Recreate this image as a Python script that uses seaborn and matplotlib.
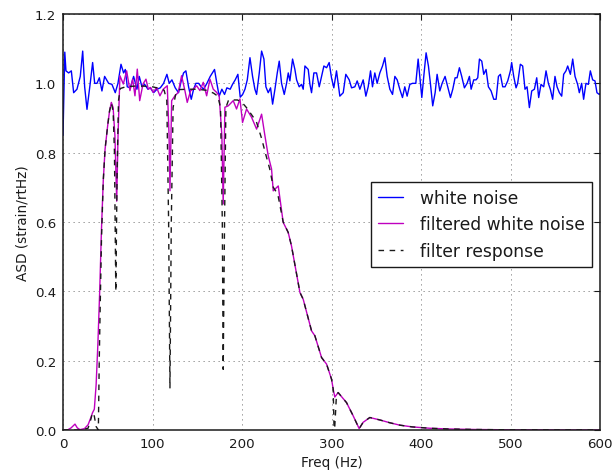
import numpy as np
import matplotlib
matplotlib.use("Agg")
import matplotlib.pyplot as plt
import seaborn as sns

# white noise ASD
noise_freq = [0, 2, 3.3, 6.3, 9.3, 11.9, 15.6, 19.3, 22.0, 24.2, 26.8, 30.5, 33.1, 35.4, 38.0,
              40.6, 43.5, 46.5, 51.0, 54.7, 58.4, 61.4, 64.8, 67.7, 69.6, 71.8, 75.2, 78.9,
              82.6, 85.2, 88.2, 91.2, 94.9, 97.5, 101.2, 105.0, 108.7, 112.4, 116.1, 118.7,
              121.7, 125.4, 129.1, 132.1, 134.7, 137.3, 140.3, 143.3, 145.9, 148.5, 151.5,
              154.4, 157.1, 160.8, 164.5, 169.3, 171.9, 174.5, 177.5, 180.5, 183.1, 186.8,
              189.4, 192.4, 195.4, 198.0,
              200.7, 203.3, 205.9, 208.9, 211.8, 214.4, 216.3, 219.3, 221.9, 224.5, 226.7,
              229.3, 231.9, 234.2, 236.8, 239.4, 241.6, 244.2, 247.2, 249.8, 251.7, 253.5,
              256.5, 259.1, 261.0, 263.9, 266.5, 268.4, 270.3, 274.0, 275.9, 277.7, 280.3,
              283.3, 286.3, 288.9, 291.5, 294.5, 297.4, 300.0, 302.6, 305.6, 309.3, 313.1,
              316.0, 319.8, 322.4, 326.1, 328.7, 331.7, 335.4, 338.4, 341.0, 343.6, 345.8,
              348.4, 351.0, 354.0, 357.0, 359.6, 362.2, 365.2, 368.2, 370.8, 373.4, 376.3,
              379.3, 381.9, 384.5, 387.5, 390.5, 394.2, 396.8,
              398.3, 400.9, 403.1, 405.7, 408.3, 410.5, 413.1, 415.8, 418.0, 421.0, 423.6,
              426.9, 429.9, 432.9, 435.5, 438.1, 440.3, 442.9, 445.5, 448.5, 451.5, 454.1,
              456.0, 458.9, 461.5, 463.4, 465.3, 467.9, 470.1, 472.7, 475.3, 478.3, 481.3,
              483.9, 486.5, 488.7, 491.3, 493.9, 496.9, 499.9, 501.3, 503.6, 506.2, 508.0,
              511.0, 513.6, 516.2, 518.5, 521.1, 523.7, 526.7, 529.3, 531.5, 534.1, 537.1,
              539.7, 542.3, 544.5, 547.1, 549.7, 552.0, 554.6, 557.2, 559.4, 562.0, 563.9,
              566.9, 569.5, 572.1, 575.0, 576.9, 579.5, 581.7, 584.3, 587.0, 589.2, 591.8,
              594.4, 596.6, 599.2, 600]
noise_asd = [0.85, 1.09, 1.036, 1.03, 1.036, 0.973, 0.983, 1.02, 1.093, 0.99, 0.925, 1.002, 1.06,
             1.0, 1.0, 1.016, 0.978, 1.02, 1.0, 0.997, 0.973, 1.0, 1.055, 1.03, 1.04, 0.99,
             0.987, 1.02, 0.983, 1.02, 0.99, 0.997, 0.983, 0.987, 0.973, 0.983, 0.987, 1.0,
             1.026, 1.0, 1.01, 0.987, 0.973, 1.007, 1.03, 1.036, 0.99, 0.954, 0.983, 1.0, 1.0,
             0.99, 0.983, 1.0, 1.02, 1.04, 1.0, 0.963, 0.983, 0.968, 0.987, 0.983, 0.997,
             1.01, 1.026, 0.96,
             0.968, 0.983, 1.01, 1.074, 1.02, 0.983, 0.968, 1.03, 1.093, 1.07, 0.99, 0.973,
             0.987, 0.94, 0.983, 1.03, 1.064, 1.0, 0.968, 1.0, 1.03, 1.007, 1.07, 1.04, 1.01,
             0.99, 0.997, 0.983, 1.05, 1.04, 0.997, 0.973, 1.03, 1.03, 0.99, 1.02, 1.05,
             1.045, 1.06, 1.016, 0.987, 1.036, 0.963, 0.973, 1.026, 1.01, 0.987, 0.99, 1.007,
             0.983, 1.01, 0.963, 0.99, 1.036, 0.99, 1.03, 1.0, 1.03, 1.05, 1.074, 1.02, 0.983,
             0.968, 1.02, 1.01, 0.983, 0.959, 0.99, 0.963, 0.997, 1.0, 1.0, 1.07,
             1.03, 0.959, 1.02, 1.088, 1.05, 1.0, 0.935, 0.973, 1.026, 0.978, 1.0, 1.02, 0.99,
             0.959, 0.983, 1.016, 1.016, 1.045, 1.02, 0.987, 1.0, 1.02, 0.983, 1.01, 1.01,
             1.016, 1.07, 1.064, 1.026, 1.04, 0.99, 0.978, 0.954, 0.954, 1.02, 1.026, 0.99,
             0.99, 1.007, 1.036, 1.06, 1.02, 0.987, 1.0, 1.055, 1.05, 0.983, 0.99, 0.93,
             0.978, 0.983, 1.016, 0.959, 0.997, 0.99, 1.036, 1.0, 0.983, 0.954, 1.02, 0.99,
             0.973, 0.963, 1.026, 1.036, 1.05, 1.026, 1.07, 1.02, 0.997, 0.973, 1.0, 0.954,
             1.0, 0.997, 1.036, 1.01, 1.007, 0.973, 0.968, 0.97]

# filtered white noise ASD
filt_freq = [0, 5, 9, 13.4, 16, 19, 24, 28, 31, 33, 35, 37, 39, 41, 43, 45, 47, 50, 52, 54,
             56, 58, 60, 61.5, 63.6, 67.4, 71.1, 74.8, 77.8, 80.4, 83, 85.7, 89.4, 92.7,
             95.3, 97.9, 100.8, 104.6, 108.3, 112, 116.5, 118.5, 119.5, 121.4, 125.1, 128.8,
             132.5, 136.2, 138.8, 142.6, 145.5, 149.3, 153, 156.7, 160.5, 164.2, 167.9,
             171.6, 174.5, 177.5, 179, 180.9, 184.6, 190.2, 193.9, 197.7, 200.6, 205.1,
             210.7, 216.3, 221.9, 225.6, 229.3, 233, 234.9, 240.5, 246, 251.6, 255.3, 264.7,
             268.4, 277.7, 281.4, 288.9, 294.5, 300, 301.9, 303.7, 307.4, 316.8, 324.2,
             330.9, 335.3, 342.8, 354, 365, 376.3, 390, 410, 430, 460, 500, 550, 600]
filt_asd = [0.0, 0.0, 0.006, 0.017, 0.006, 0.001, 0.004, 0.015, 0.035, 0.05, 0.06, 0.13, 0.25,
            0.4, 0.58, 0.72, 0.81, 0.88, 0.92, 0.945, 0.93, 0.85, 0.66, 0.85, 1.022, 0.998,
            1.036, 0.979, 1.012, 0.964, 1.041, 0.95, 0.998, 1.012, 0.983, 0.988, 0.974,
            0.988, 0.964, 0.983, 0.993, 0.85, 0.69, 0.95, 0.964, 0.974, 1.022, 0.979, 0.945,
            0.979, 0.983, 0.993, 0.979, 1.003, 0.964, 1.012, 0.983, 0.974, 0.964, 0.85,
            0.652, 0.931, 0.935, 0.95, 0.926, 0.955, 0.887, 0.926, 0.902, 0.868, 0.911,
            0.849, 0.791, 0.753, 0.69, 0.704, 0.599, 0.57, 0.531, 0.397, 0.377, 0.286,
            0.272, 0.209, 0.19, 0.147, 0.118, 0.095, 0.108, 0.079, 0.041, 0.004, 0.022,
            0.036, 0.029, 0.021, 0.014, 0.009, 0.005, 0.003, 0.0015, 0.0005, 0.0001, 0.0]

# filter response
resp_freq = [0, 20, 28, 31, 33, 35, 37, 39.5, 40.5, 41.5, 43, 45, 47, 50, 52, 54, 56, 57.5, 59,
             60.5, 62, 64, 70, 80, 90, 100, 108, 113, 116, 118, 119.5, 121, 123, 126, 130,
             140, 150, 160, 168, 173, 176, 178, 179, 180.5, 182, 185, 195, 200, 205, 210,
             216, 222, 226, 231, 235, 240, 246, 251.6, 255.3, 264.7, 268.4, 277.7, 281.4,
             288.9, 294.5, 300, 301.9, 302.8, 303.5, 304.5, 305.5, 307.4, 316.8, 324.2,
             330.9, 335.3, 342.8, 354, 365, 376.3, 390, 410, 430, 460, 500, 550, 600]
resp_asd = [0.0, 0.0, 0.005, 0.03, 0.05, 0.04, 0.01, 0.0, 0.2, 0.35, 0.55, 0.72, 0.81, 0.88,
            0.92, 0.943, 0.92, 0.8, 0.4, 0.75, 0.95, 0.985, 0.99, 0.992, 0.992, 0.99, 0.985,
            0.98, 0.95, 0.6, 0.12, 0.6, 0.93, 0.97, 0.982, 0.983, 0.983, 0.98, 0.972, 0.963,
            0.93, 0.6, 0.175, 0.6, 0.93, 0.952, 0.952, 0.945, 0.93, 0.912, 0.89, 0.84, 0.8,
            0.753, 0.70, 0.68, 0.6, 0.57, 0.531, 0.397, 0.377, 0.286, 0.272, 0.209, 0.19,
            0.147, 0.118, 0.01, 0.003, 0.05, 0.1, 0.108, 0.079, 0.041, 0.004, 0.022, 0.036,
            0.029, 0.021, 0.014, 0.009, 0.005, 0.003, 0.0015, 0.0005, 0.0001, 0.0]

sns.set_theme(style="white", rc={
    "axes.edgecolor": "k", "text.color": "k", "axes.labelcolor": "k",
    "xtick.color": "k", "ytick.color": "k",
})
plt.rcParams["font.family"] = ["DejaVu Sans"]

fig = plt.figure(figsize=(6.14, 4.77), dpi=100)
ax = fig.add_axes([63 / 614, 46 / 477, 537 / 614, 416 / 477])

sns.lineplot(x=noise_freq, y=noise_asd, ax=ax, color="#0000ff", lw=1.0,
             estimator=None, sort=False, label="white noise")
sns.lineplot(x=filt_freq, y=filt_asd, ax=ax, color="#bf00bf", lw=1.0,
             estimator=None, sort=False, label="filtered white noise")
sns.lineplot(x=resp_freq, y=resp_asd, ax=ax, color="k", lw=1.0,
             estimator=None, sort=False, label="filter response")
ax.lines[2].set_linestyle((0, (4, 4)))

ax.set_xlim(0, 600)
ax.set_ylim(0, 1.2)
ax.set_xticks(np.arange(0, 601, 100))
ax.set_yticks(np.arange(0, 1.21, 0.2))
ax.set_yticklabels([f"{v:.1f}" for v in np.arange(0, 1.21, 0.2)])
# sparse grey dotted grid like old matplotlib
ax.grid(True, color="#777777", linestyle=(0, (1.5, 4.5)), linewidth=0.6)
ax.set_axisbelow(True)
ax.tick_params(direction="in", length=4, width=0.8, top=True, right=True,
               labelsize=9.6, pad=5)
for s in ax.spines.values():
    s.set_linewidth(1.1)
    s.set_color("k")

ax.set_xlabel("Freq (Hz)", fontsize=9.8)
ax.set_ylabel("ASD (strain/rtHz)", fontsize=9.8)

leg = ax.legend(loc="upper right", bbox_to_anchor=(0.985, 0.596), borderaxespad=0,
                fancybox=False, edgecolor="k", framealpha=1, fontsize=12.3,
                handlelength=1.5, handletextpad=1.0)
leg.get_frame().set_linewidth(1.0)

fig.savefig("out.png", dpi=100)
